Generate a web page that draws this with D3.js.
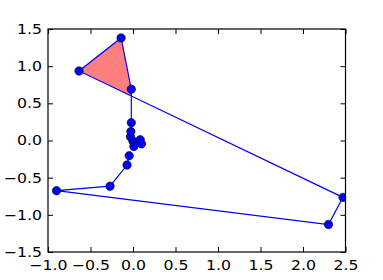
<!DOCTYPE html>
<html><head><meta charset="utf-8">
<script src="https://cdn.jsdelivr.net/npm/d3@7"></script>
<style>html,body{margin:0;padding:0;background:#fff;}svg{display:block;}</style>
</head><body>
<script>
// Path points, in drawing order
const xs = [0.00, 0.085, 0.10, 0.01, -0.03, -0.025, -0.02, -0.02, -0.14, -0.635, 2.47, 2.30, -0.90, -0.27, -0.07, -0.045];
const ys = [-0.01, 0.01, -0.045, -0.08, 0.05, 0.12, 0.24, 0.69, 1.38, 0.935, -0.765, -1.13, -0.675, -0.615, -0.33, -0.205];
// Indices of the vertices of the self-intersecting loop (filled)
const loopIdx = [7, 8, 9];
const xTicks = [-1.0, -0.5, 0.0, 0.5, 1.0, 1.5, 2.0, 2.5];
const yTicks = [-1.5, -1.0, -0.5, 0.0, 0.5, 1.0, 1.5];

const W = 383, H = 280;
const m = {left: 48, right: 37.5, top: 29, bottom: 28};
const svg = d3.select("body").append("svg").attr("width", W).attr("height", H);
const x = d3.scaleLinear().domain([-1.0, 2.5]).range([m.left, W - m.right]);
const y = d3.scaleLinear().domain([-1.5, 1.5]).range([H - m.bottom, m.top]);
const fmt = v => d3.format(".1f")(v).replace("-", "\u2212");

svg.append("clipPath").attr("id", "clip").append("rect")
  .attr("x", m.left).attr("y", m.top)
  .attr("width", W - m.left - m.right).attr("height", H - m.top - m.bottom);

const pts = xs.map((v, i) => [v, ys[i]]);

// intersection of segment (6->7) with segment (9->10)
function intersect(a, b, c, d) {
  const r = [b[0] - a[0], b[1] - a[1]], s = [d[0] - c[0], d[1] - c[1]];
  const den = r[0] * s[1] - r[1] * s[0];
  const t = ((c[0] - a[0]) * s[1] - (c[1] - a[1]) * s[0]) / den;
  return [a[0] + t * r[0], a[1] + t * r[1]];
}
const ip = intersect(pts[6], pts[7], pts[9], pts[10]);
const loop = [ip].concat(loopIdx.map(i => pts[i]));

const g = svg.append("g").attr("clip-path", "url(#clip)");
g.append("path").datum(loop)
  .attr("d", d3.line().x(d => x(d[0])).y(d => y(d[1])).curve(d3.curveLinearClosed))
  .attr("fill", "#ff0000").attr("fill-opacity", 0.5).attr("stroke", "none");
g.append("path").datum(pts)
  .attr("d", d3.line().x(d => x(d[0])).y(d => y(d[1])))
  .attr("fill", "none").attr("stroke", "#0000ff").attr("stroke-width", 1.2);
g.selectAll("circle").data(pts).enter().append("circle")
  .attr("cx", d => x(d[0])).attr("cy", d => y(d[1])).attr("r", 4.2)
  .attr("fill", "#0000ff").attr("stroke", "#000").attr("stroke-width", 0.6);

// axes (ticks inward on all sides)
const tl = 5;
const axB = svg.append("g").attr("transform", `translate(0,${H - m.bottom})`)
  .call(d3.axisBottom(x).tickValues(xTicks).tickSize(-tl).tickPadding(8).tickFormat(fmt));
const axT = svg.append("g").attr("transform", `translate(0,${m.top})`)
  .call(d3.axisTop(x).tickValues(xTicks).tickSize(-tl).tickFormat(""));
const axL = svg.append("g").attr("transform", `translate(${m.left},0)`)
  .call(d3.axisLeft(y).tickValues(yTicks).tickSize(-tl).tickPadding(6).tickFormat(fmt));
const axR = svg.append("g").attr("transform", `translate(${W - m.right},0)`)
  .call(d3.axisRight(y).tickValues(yTicks).tickSize(-tl).tickFormat(""));
[axB, axT, axL, axR].forEach(a => {
  a.select(".domain").remove();
  a.selectAll("line").attr("stroke", "#000").attr("stroke-width", 1);
  a.selectAll("text").attr("font-family", "DejaVu Sans").attr("font-size", 14).attr("fill", "#000")
    .each(function() {
      const L = this.getComputedTextLength();
      if (L > 0) d3.select(this).attr("textLength", L * 1.12).attr("lengthAdjust", "spacingAndGlyphs");
    });
});
svg.append("rect").attr("x", m.left).attr("y", m.top)
  .attr("width", W - m.left - m.right).attr("height", H - m.top - m.bottom)
  .attr("fill", "none").attr("stroke", "#000").attr("stroke-width", 1.2);
</script>
</body></html>
